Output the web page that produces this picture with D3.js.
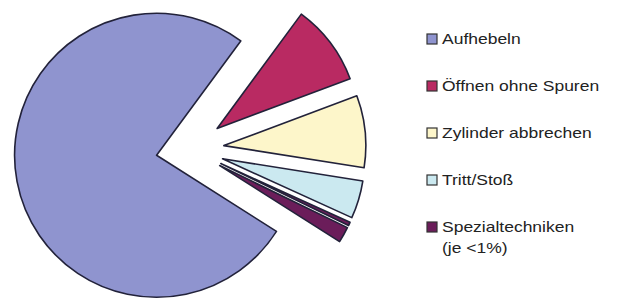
<!DOCTYPE html>
<meta charset="utf-8">
<style>
body{ margin:0; background:#fff; }
.legend text{ font-family:"Liberation Sans", Arial, sans-serif; font-size:14px; fill:#222; }
</style>
<svg width="622" height="300"></svg>
<script src="https://cdn.jsdelivr.net/npm/d3@7"></script>
<script>
// data (percent)
var categories = ["Aufhebeln", "Öffnen ohne Spuren", "Zylinder abbrechen", "Tritt/Stoß", "Spezialtechniken", "Spezialtechniken"];
var values = [76.1, 9.2, 8.2, 4.3, 0.4, 1.8];
var legendLabels = [["Aufhebeln"], ["Öffnen ohne Spuren"], ["Zylinder abbrechen"], ["Tritt/Stoß"], ["Spezialtechniken", "(je <1%)"]];
var colors = ["#8f94cf", "#b92a62", "#fdf6ca", "#cbe9f0", "#6b1d5a"];

var svg = d3.select("svg"),
    cx = 190, cy = 149, radius = 142, explode = 34;

var color = d3.scaleOrdinal()
    .domain(["Aufhebeln", "Öffnen ohne Spuren", "Zylinder abbrechen", "Tritt/Stoß", "Spezialtechniken"])
    .range(colors);

var start = 122.4 * Math.PI / 180;
var pie = d3.pie().sort(null)
    .startAngle(start).endAngle(start + 2 * Math.PI);
var arc = d3.arc().innerRadius(0).outerRadius(radius);

var data = values.map(function(v, i){ return {name: categories[i], value: v}; });

var g = svg.append("g")
    .attr("transform", "translate(" + cx + "," + cy + ")");

g.selectAll(".slice")
    .data(pie.value(function(d){ return d.value; })(data))
    .enter().append("path")
        .attr("class", "slice")
        .attr("d", arc)
        .attr("fill", function(d){ return color(d.data.name); })
        .attr("stroke", "#22223a")
        .attr("stroke-width", 1.6)
        .attr("stroke-linejoin", "round")
        .attr("transform", function(d){
            var a = (d.startAngle + d.endAngle) / 2;
            return "translate(" + (explode * Math.sin(a)) + "," + (-explode * Math.cos(a)) + ")";
        });

// legend
var ly = d3.scalePoint().domain(d3.range(legendLabels.length)).range([39, 227]);
var legend = svg.append("g").attr("class", "legend");
var item = legend.selectAll("g")
    .data(legendLabels)
    .enter().append("g")
    .attr("transform", function(d, i){ return "translate(427," + ly(i) + ")"; });
item.append("rect")
    .attr("x", 0).attr("y", -5)
    .attr("width", 10).attr("height", 10)
    .attr("fill", function(d){ return color(d[0]); })
    .attr("stroke", "#333")
    .attr("stroke-width", 1.2);
item.append("text")
    .attr("transform", "translate(15,0) scale(1.25,1)")
    .selectAll("tspan")
    .data(function(d){ return d; })
    .enter().append("tspan")
        .attr("x", 0)
        .attr("y", function(d, i){ return 5 + i * 21; })
        .text(function(d){ return d; });
</script>
